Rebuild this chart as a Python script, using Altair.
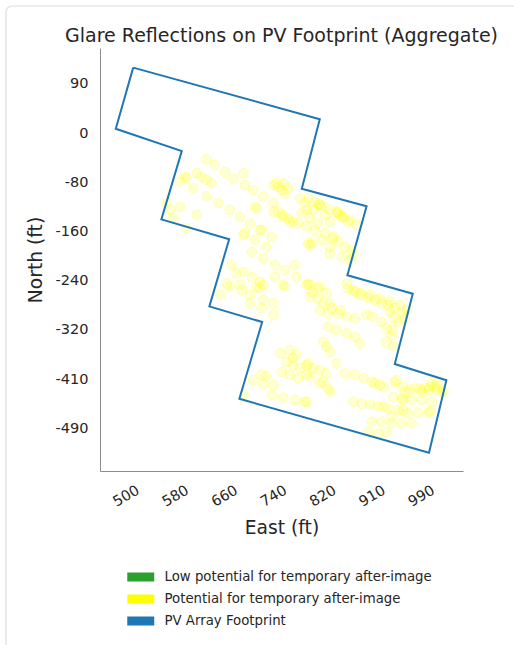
import json
import altair as alt
import pandas as pd

chart_title = "Glare Reflections on PV Footprint (Aggregate)"
categories = [
    "Low potential for temporary after-image",
    "Potential for temporary after-image",
    "PV Array Footprint",
]
category_colors = ["#2ca02c", "#ffff00", "#1f77b4"]

# PV array footprint outline (ft)
footprint_east = [512, 823, 793, 901, 869, 978, 948, 1034, 1005, 689, 727, 639, 672, 559, 593, 483, 512]
footprint_north = [109, 23, -93, -122, -237, -268, -385, -412, -533, -443, -315, -289, -177, -144, -30, 7, 109]

# Glare reflection points (ft)
glare_east = [
    634, 648, 665, 679, 696, 698, 712, 729, 746, 601, 598, 590, 618, 626, 634, 643, 612, 634, 654, 673,
    690, 707, 723, 718, 715, 568, 590, 579, 601, 618, 573,
    696, 715, 743, 734, 710, 729, 748, 782, 765, 784, 748, 676, 684, 696, 710, 723, 668, 690, 729,
    718, 762, 801, 698, 726,
    746, 754, 763, 770, 760, 765, 751, 790, 798, 801, 793, 804, 815, 823, 826, 822, 840, 851, 853, 857,
    860, 862, 870, 884, 873, 812, 832, 807, 820, 840,
    746, 754, 760, 762, 770, 773, 779, 787, 801, 815, 832, 826, 843, 854, 846, 865, 876, 840, 860, 879,
    840, 873, 804, 807, 810,
    804, 823, 807, 820, 834, 807, 829, 840, 823, 837, 857, 868, 810, 820, 843, 854, 882,
    868, 870, 882, 879, 890, 893, 904, 907, 915, 923, 926, 937, 940, 948, 957, 960, 965, 968, 901, 910,
    926, 934, 943, 934, 946, 954, 940, 947, 943,
    837, 851, 868, 882, 890, 829, 834, 840, 746, 729, 746, 707, 726, 693, 707, 723, 673, 657, 765,
    757, 773, 784, 768, 779, 790, 801, 760, 773, 787, 801, 804, 812, 823, 834, 807, 778,
    712, 726, 734, 729, 746, 743, 762, 782, 798, 696, 823, 840,
    851, 865, 882, 896, 910, 915, 923, 929, 829, 837, 801,
    982, 993, 1004, 1015, 1026, 1010, 965, 948, 951, 962, 973, 990, 1007, 1018, 1029, 1020, 998, 960, 976, 993,
    1010, 946, 962,
    879, 893, 907, 920, 937, 954, 970, 987, 1004, 929, 962, 1007, 943,
    910, 926, 943, 960, 976, 904, 920, 934,
]
glare_north = [
    -44, -53, -65, -76, -67, -87, -95, -106, -117, -76, -73, -81, -67, -73, -78, -84, -92, -106, -117, -128,
    -140, -151, -162, -126, -123, -117, -123, -142, -159, -137, -128,
    -170, -178, -173, -190, -198, -209, -220, -220, -228, -240, -240, -220, -234, -231, -240, -248, -251, -253, -253,
    -256, -253, -253, -167, -162,
    -87, -90, -84, -92, -95, -101, -84, -109, -117, -128, -134, -109, -115, -120, -123, -118, -128, -131, -133, -137,
    -140, -140, -148, -153, -145, -128, -137, -142, -151, -148,
    -131, -131, -140, -137, -142, -148, -148, -151, -156, -162, -167, -178, -176, -181, -173, -190, -195, -190, -206, -203,
    -201, -212, -184, -187, -184,
    -251, -256, -253, -259, -267, -273, -284, -284, -295, -301, -295, -306, -265, -276, -292, -301, -309,
    -251, -259, -265, -262, -267, -270, -275, -270, -278, -276, -284, -287, -281, -292, -287, -298, -309, -295, -303, -306,
    -315, -326, -337, -348, -356, -315, -298, -308, -328,
    -323, -328, -334, -340, -351, -348, -356, -365, -303, -278, -284, -284, -292, -262, -270, -259, -256, -270, -256,
    -367, -362, -370, -381, -387, -392, -387, -398, -403, -409, -403, -384, -392, -395, -401, -406, -375,
    -412, -403, -406, -419, -420, -437, -441, -445, -448, -437, -417, -431,
    -384, -401, -403, -409, -415, -417, -420, -423, -415, -426, -448,
    -426, -431, -428, -423, -431, -415, -431, -415, -412, -423, -428, -426, -423, -428, -431, -418, -425, -442, -445, -445,
    -448, -440, -445,
    -448, -451, -453, -456, -459, -462, -467, -467, -467, -456, -462, -464, -473,
    -481, -481, -484, -484, -484, -498, -501, -498,
]

x_tick_pos = [500, 582, 664, 746, 828, 910, 992]
x_tick_labels = ["500", "580", "660", "740", "820", "910", "990"]
y_tick_pos = [82, 0, -82, -164, -246, -328, -410, -492]
y_tick_labels = ["90", "0", "-80", "-160", "-240", "-320", "-410", "-490"]

x_domain = [456.7, 1061.7]
y_domain = [-563.3, 141.7]

FONT = "DejaVu Sans"
TEXT = "#262626"

glare_df = pd.DataFrame({
    "east": glare_east,
    "north": glare_north,
    "category": [categories[1]] * len(glare_east),
})
fp_df = pd.DataFrame({
    "east": footprint_east,
    "north": footprint_north,
    "idx": list(range(len(footprint_east))),
})


def label_expr(pos, labels):
    return f"{json.dumps(labels)}[indexof({json.dumps(pos)}, datum.value)]"


x_axis = alt.Axis(
    values=x_tick_pos, labelExpr=label_expr(x_tick_pos, x_tick_labels),
    title="East (ft)", grid=False, ticks=False, tickSize=0,
    domainColor="#8c8c8c", domainWidth=1,
    labelAngle=330, labelAlign="center", labelBaseline="middle", labelPadding=25,
    labelFont=FONT, labelFontSize=14.5, labelColor=TEXT, labelFlush=False, labelOverlap=False,
    titleFont=FONT, titleFontSize=18.7, titleFontWeight="normal", titleColor=TEXT,
    titleX=181.5, titleY=62, titleAlign="center", titleBaseline="alphabetic",
)
y_axis = alt.Axis(
    values=y_tick_pos, labelExpr=label_expr(y_tick_pos, y_tick_labels),
    title="North (ft)", grid=False, ticks=False, tickSize=0,
    domainColor="#8c8c8c", domainWidth=1,
    labelPadding=12, labelFont=FONT, labelFontSize=14.5, labelColor=TEXT,
    labelFlush=False, labelOverlap=False,
    titleFont=FONT, titleFontSize=18.7, titleFontWeight="normal", titleColor=TEXT,
    titleAngle=270, titleX=-65, titleY=211.5, titleAlign="center", titleBaseline="middle",
)

X = alt.X("east:Q", scale=alt.Scale(domain=x_domain, nice=False, zero=False), axis=x_axis)
Y = alt.Y("north:Q", scale=alt.Scale(domain=y_domain, nice=False, zero=False), axis=y_axis)

border = alt.Chart(pd.DataFrame({"k": [0]})).mark_rect(
    fillOpacity=0, stroke="#dedede", strokeWidth=1.2, cornerRadius=6
).encode(
    x=alt.value(-94), x2=alt.value(440), y=alt.value(-42), y2=alt.value(620)
)

points = alt.Chart(glare_df).mark_circle(
    size=95, fillOpacity=0.17, stroke="#ffff00", strokeOpacity=0.25, strokeWidth=1
).encode(
    x=X, y=Y,
    color=alt.Color(
        "category:N",
        scale=alt.Scale(domain=categories, range=category_colors),
        title=None,
        legend=alt.Legend(
            orient="none", legendX=33.75, legendY=522, direction="vertical",
            symbolType="M-2,-0.667H2V0.667H-2Z", symbolSize=182,
            symbolOpacity=1, symbolStrokeWidth=0,
            labelFont=FONT, labelFontSize=13.3, labelColor=TEXT, labelOffset=16.75,
            labelLimit=400, rowPadding=8, padding=0,
        ),
    ),
)

outline = alt.Chart(fp_df).mark_line(color="#1f77b4", strokeWidth=2, strokeJoin="miter").encode(
    x=X, y=Y, order="idx:Q"
)

chart = alt.layer(border, points, outline).properties(
    width=363, height=423,
    padding={"left": 100, "top": 48, "right": 51, "bottom": 174},
    autosize=alt.AutoSizeParams(type="none"),
    background="white",
    title=alt.TitleParams(
        chart_title, font=FONT, fontSize=19, fontWeight="normal", color=TEXT,
        anchor="middle", baseline="alphabetic", offset=-56,
    ),
).configure_view(strokeWidth=0)

chart.save("out.html", embed_options={"renderer": "svg", "actions": False})
